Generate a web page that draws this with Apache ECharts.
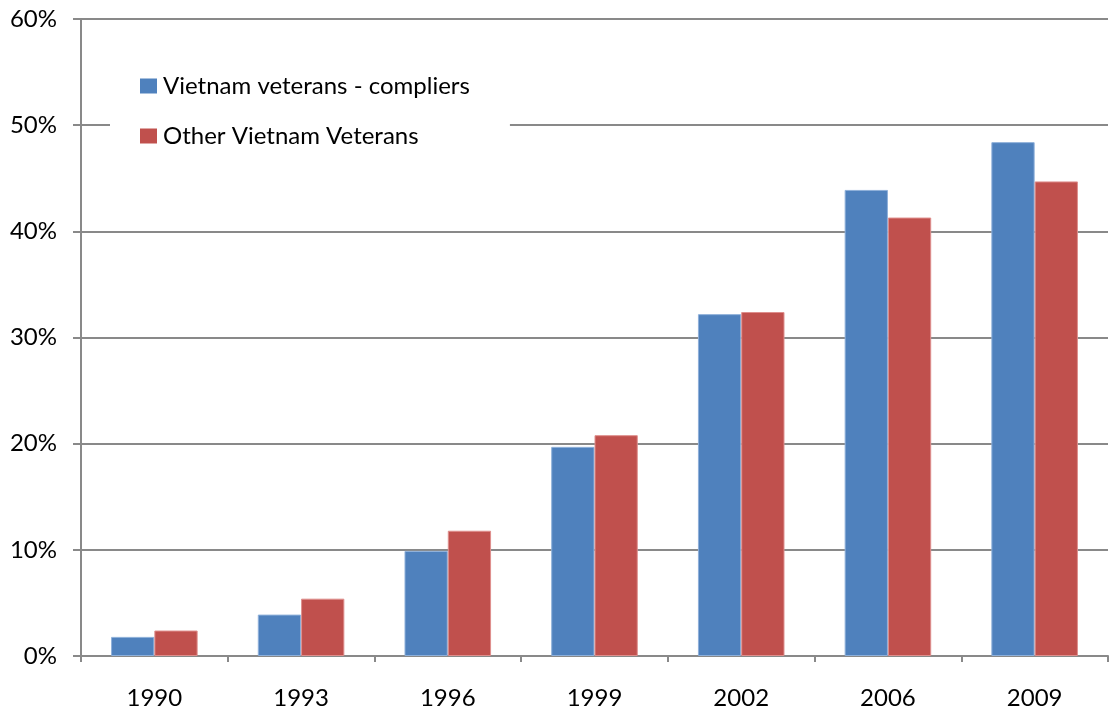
<!DOCTYPE html>
<html>
<head>
<meta charset="utf-8">
<script src="https://cdn.jsdelivr.net/npm/echarts@6/dist/echarts.min.js"></script>
<style>
  html, body { margin: 0; padding: 0; background: #fff; }
  #chart { width: 1111px; height: 713px; }
</style>
</head>
<body>
<div id="chart"></div>
<script>
// data (percent)
var years = ['1990', '1993', '1996', '1999', '2002', '2006', '2009']
var compliers = [1.8, 3.9, 9.9, 19.7, 32.2, 43.9, 48.4]
var others = [2.4, 5.4, 11.8, 20.8, 32.4, 41.3, 44.7]
var seriesNames = ['Vietnam veterans - compliers', 'Other Vietnam Veterans']

var font = 'Lato, "Open Sans", sans-serif'
var gray = '#898989'

var chart = echarts.init(document.getElementById('chart'))
chart.setOption({
  animation: false,
  textStyle: { fontFamily: font },
  grid: { left: 81, right: 3, top: 19, bottom: 57 },
  legend: {
    orient: 'vertical',
    left: 110,
    top: 54,
    padding: [20, 40, 20, 30],
    backgroundColor: '#fff',
    itemWidth: 17,
    itemHeight: 15,
    itemGap: 26,
    icon: 'rect',
    itemStyle: { borderWidth: 0 },
    textStyle: { fontSize: 24, color: '#000', padding: [0, 0, 0, 1] },
    data: seriesNames
  },
  xAxis: {
    type: 'category',
    data: years,
    axisLine: { lineStyle: { color: gray, width: 2 } },
    axisTick: { show: true, length: 6, lineStyle: { color: gray, width: 2 } },
    axisLabel: { fontSize: 24, color: '#000', margin: 30 }
  },
  yAxis: {
    type: 'value',
    min: 0,
    max: 60,
    interval: 10,
    axisLine: { show: true, lineStyle: { color: gray, width: 2 } },
    axisTick: { show: true, length: 8, lineStyle: { color: gray, width: 2 } },
    axisLabel: { fontSize: 24, color: '#000', margin: 24, formatter: '{value}%' },
    splitLine: { lineStyle: { color: gray, width: 2 } }
  },
  series: [
    {
      name: seriesNames[0],
      type: 'bar',
      data: compliers,
      barGap: '0%',
      barCategoryGap: '41%',
      itemStyle: { color: '#4F81BD', borderColor: '#8eb0da', borderWidth: 1 }
    },
    {
      name: seriesNames[1],
      type: 'bar',
      data: others,
      itemStyle: { color: '#C0504D', borderColor: '#df8f8d', borderWidth: 1 }
    }
  ]
})
</script>
</body>
</html>
